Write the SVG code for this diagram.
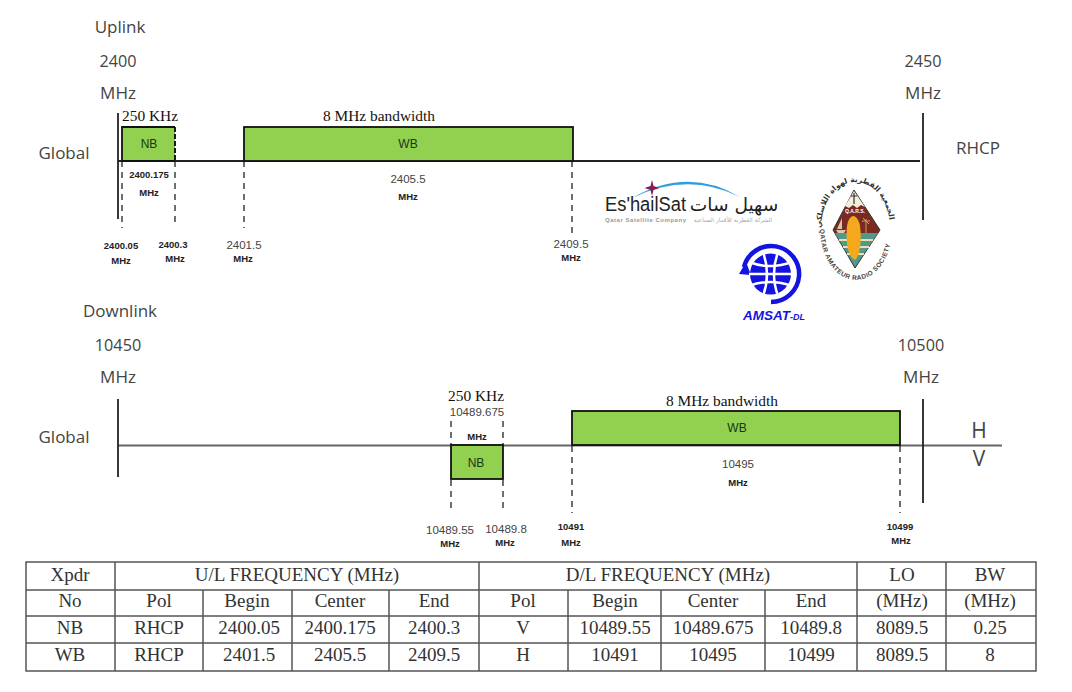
<svg xmlns="http://www.w3.org/2000/svg" width="1072" height="692" viewBox="0 0 1072 692">
<style>
.c{font-family:"Open Sans","Noto Sans",sans-serif;fill:#444;font-size:17px;text-anchor:middle}
.n{font-family:"Open Sans","Noto Sans",sans-serif;fill:#444;font-size:16.200px;text-anchor:middle}
.p{font-family:"Open Sans","Noto Sans",sans-serif;fill:#444;font-size:21px;text-anchor:middle}
.s{font-family:"Liberation Sans",sans-serif;fill:#222;font-size:9.500px;font-weight:700;text-anchor:middle}
.m{font-family:"Liberation Sans",sans-serif;fill:#444;font-size:11.500px;text-anchor:middle}
.k{font-family:"Liberation Sans",sans-serif;fill:#17361a;font-size:12px;text-anchor:middle}
.b{font-family:"Liberation Serif",serif;fill:#111;font-size:15.400px;text-anchor:middle}
.t{font-family:"Liberation Serif",serif;fill:#333;font-size:19px;text-anchor:middle}
.g{fill:#92d050;stroke:#111;stroke-width:1.8}
.f{fill:#92d050}
.d{stroke:#222;stroke-width:1.3;stroke-dasharray:6 5;fill:none}
.e{stroke:#111;stroke-width:1.8;fill:none}
.ed{stroke:#111;stroke-width:1.9;stroke-dasharray:5 2;fill:none}
.l{stroke:#222;stroke-width:1.8;fill:none}
.h{stroke:#666;stroke-width:2.2;fill:none}
.tb{stroke:#555;stroke-width:1.5;fill:none}
.w{stroke:#fff;fill:none}
</style>
<rect width="1072" height="692" fill="#fff"/>
<g id="connectors">
<path class="l" d="M118 161H920M118 113V219M923 113V220"/>
<path class="d" d="M122 161V228M175 161V226M244 161V228M572 161V238"/>
<path class="h" d="M118 445.500H1002"/>
<path class="l" d="M118 399V477M923 399V503"/>
<path class="d" d="M451 421V445M503 421V445M451 480V513M503 480V513M572 446V513M900 446V513"/>
</g>
<g id="uplink-labels">
<text class="c" x="120" y="33">Uplink</text>
<text class="n" x="118" y="67">2400</text>
<text class="c" x="118" y="99">MHz</text>
<text class="n" x="923" y="67">2450</text>
<text class="c" x="923" y="99">MHz</text>
<text class="c" x="64" y="159">Global</text>
<text class="c" x="978" y="154">RHCP</text>
<text class="b" x="150" y="121">250 KHz</text>
<text class="b" x="379" y="121">8 MHz bandwidth</text>
<text class="s" x="149" y="178">2400.175</text><text class="s" x="149" y="196">MHz</text>
<text class="m" x="408" y="183">2405.5</text><text class="s" x="408" y="200">MHz</text>
<text class="s" x="121" y="249">2400.05</text><text class="s" x="121" y="264">MHz</text>
<text class="s" x="173" y="248">2400.3</text><text class="s" x="175" y="262">MHz</text>
<text class="m" x="244" y="249">2401.5</text><text class="s" x="243" y="262">MHz</text>
<text class="m" x="571" y="248">2409.5</text><text class="s" x="571" y="261">MHz</text>
</g>
<g id="uplink-nb"><rect class="f" x="122" y="127" width="53" height="34"/><path class="e" d="M175 127H122V161H175"/><path class="ed" d="M175 127V161"/><text class="k" x="149" y="148">NB</text></g>
<g id="uplink-wb"><rect class="g" x="244" y="127" width="329" height="34"/><text class="k" x="408" y="148">WB</text></g>
<g id="downlink-labels">
<text class="c" x="120" y="317">Downlink</text>
<text class="n" x="118" y="351">10450</text>
<text class="c" x="118" y="383">MHz</text>
<text class="n" x="921" y="351">10500</text>
<text class="c" x="921" y="383">MHz</text>
<text class="c" x="64" y="443">Global</text>
<text class="p" x="979" y="438">H</text>
<text class="p" x="979" y="466">V</text>
<text class="b" x="476" y="401">250 KHz</text>
<text class="b" x="722" y="406">8 MHz bandwidth</text>
<text class="m" x="477" y="416">10489.675</text><text class="s" x="477" y="440">MHz</text>
<text class="m" x="738" y="468">10495</text><text class="s" x="738" y="486">MHz</text>
<text class="m" x="450" y="534">10489.55</text><text class="s" x="450" y="547">MHz</text>
<text class="m" x="506" y="533">10489.8</text><text class="s" x="505" y="546">MHz</text>
<text class="s" x="571" y="530">10491</text><text class="s" x="571" y="546">MHz</text>
<text class="s" x="900" y="530">10499</text><text class="s" x="901" y="544">MHz</text>
</g>
<g id="downlink-nb"><rect class="g" x="451" y="445" width="52" height="34"/><text class="k" x="476" y="467">NB</text></g>
<g id="downlink-wb"><rect class="g" x="572" y="411" width="328" height="34"/><text class="k" x="737" y="432">WB</text></g>
<g id="logo-eshailsat">
<path d="M632 198Q688 166 740 197Q688 171 632 198Z" fill="#2f9fd8"/>
<path d="M652 180l1.500 6 6 2-6 2-1.500 6-1.500-6-6-2 6-2z" fill="#8a1c4a"/>
<text x="605" y="211" font-family="'Liberation Sans',sans-serif" font-size="20" fill="#222" textLength="81" lengthAdjust="spacingAndGlyphs">Es'hailSat</text>
<text x="734" y="211" font-family="'DejaVu Sans',sans-serif" font-size="18.600" fill="#222" text-anchor="middle">سهيل سات</text>
<text x="605" y="222" font-family="'Liberation Sans',sans-serif" font-size="6" font-weight="700" fill="#999" textLength="81">Qatar Satellite Company</text>
<text x="733" y="222" font-family="'DejaVu Sans',sans-serif" font-size="5.800" fill="#aaa" text-anchor="middle">الشركة القطرية للأقمار الصناعية</text>
</g>
<g id="logo-qars">
<path d="M854 190L880 230 855 268 833 230Z" fill="#7a2a22" stroke="#333"/>
<path d="M854 191L865 207 861 205 857 208 853 205 849 208 845 206Z" fill="#f4efdc"/>
<path d="M854 193V204M851 196H857" stroke="#333" stroke-width="1.200"/>
<path d="M835 233H878L855 267Z" fill="#4f9a8a"/>
<path d="M839 240H873M843 247H869M847 254H864" stroke="#e8e0b0" stroke-width="2"/>
<path d="M842 218V229H837ZM836 230H846L844 233H838Z" fill="#d8c9a8"/>
<path d="M866 219V233M862 221L870 221M863 218L869 224" stroke="#c9a24a" stroke-width="1"/>
<path d="M853 216C846 218 846 232 847 244 848 252 851 258 855 260 860 256 862 240 860 226 859 220 856 216 853 216Z" fill="#f5a81c"/>
<text x="855" y="213" font-family="'Liberation Sans',sans-serif" font-size="5" font-weight="700" fill="#fff" text-anchor="middle">Q.A.R.S.</text>
<path id="qars-top" d="M821 228A33 44 0 0 1 890 228" fill="none"/>
<text font-family="'DejaVu Sans',sans-serif" font-size="7.500" font-weight="700" fill="#333"><textPath href="#qars-top">الجمعية القطرية لهواة اللاسلكي</textPath></text>
<path id="qars-bot" d="M820 229A36 51 0 0 0 892 229" fill="none"/>
<text font-family="'Liberation Sans',sans-serif" font-size="6.500" font-weight="700" fill="#444"><textPath href="#qars-bot" letter-spacing="0.500">QATAR AMATEUR RADIO SOCIETY</textPath></text>
</g>
<g id="logo-amsat">
<circle cx="770.500" cy="274" r="20.500" fill="#1414e0"/>
<path d="M744 267A28 28 0 1 1 771 302" fill="none" stroke="#1414e0" stroke-width="4.500"/>
<path d="M739 274L746 262 751 275Z" fill="#1414e0"/>
<path class="w" stroke-width="2.500" d="M749 262Q770 270 792 262M749 286Q770 278 792 286M749 274H792M763 252Q771 274 763 296M778 252Q770 274 778 296"/>
<text x="743" y="320" font-family="'Liberation Sans',sans-serif" font-size="13.500" font-weight="700" font-style="italic" fill="#1414e0">AMSAT<tspan font-size="9">-DL</tspan></text>
</g>
<g id="table">
<path class="tb" d="M26 562H1036V671H26ZM26 590H1036M26 616H1036M26 643H1036M115 562V671M479 562V671M857 562V671M946 562V671M203 590V671M292 590V671M389 590V671M568 590V671M661 590V671M765 590V671"/>
<text class="t" x="70" y="581">Xpdr</text><text class="t" x="297" y="581">U/L FREQUENCY (MHz)</text><text class="t" x="668" y="581">D/L FREQUENCY (MHz)</text><text class="t" x="902" y="581">LO</text><text class="t" x="990" y="581">BW</text>
<text class="t" x="70" y="607">No</text><text class="t" x="159" y="607">Pol</text><text class="t" x="247" y="607">Begin</text><text class="t" x="340" y="607">Center</text><text class="t" x="434" y="607">End</text><text class="t" x="523" y="607">Pol</text><text class="t" x="615" y="607">Begin</text><text class="t" x="713" y="607">Center</text><text class="t" x="811" y="607">End</text><text class="t" x="902" y="607">(MHz)</text><text class="t" x="990" y="607">(MHz)</text>
<text class="t" x="70" y="634">NB</text><text class="t" x="159" y="634">RHCP</text><text class="t" x="249" y="634">2400.05</text><text class="t" x="340" y="634">2400.175</text><text class="t" x="434" y="634">2400.3</text><text class="t" x="523" y="634">V</text><text class="t" x="615" y="634">10489.55</text><text class="t" x="713" y="634">10489.675</text><text class="t" x="811" y="634">10489.8</text><text class="t" x="902" y="634">8089.5</text><text class="t" x="990" y="634">0.25</text>
<text class="t" x="70" y="661">WB</text><text class="t" x="159" y="661">RHCP</text><text class="t" x="249" y="661">2401.5</text><text class="t" x="340" y="661">2405.5</text><text class="t" x="434" y="661">2409.5</text><text class="t" x="523" y="661">H</text><text class="t" x="615" y="661">10491</text><text class="t" x="713" y="661">10495</text><text class="t" x="811" y="661">10499</text><text class="t" x="902" y="661">8089.5</text><text class="t" x="990" y="661">8</text>
</g>
</svg>
